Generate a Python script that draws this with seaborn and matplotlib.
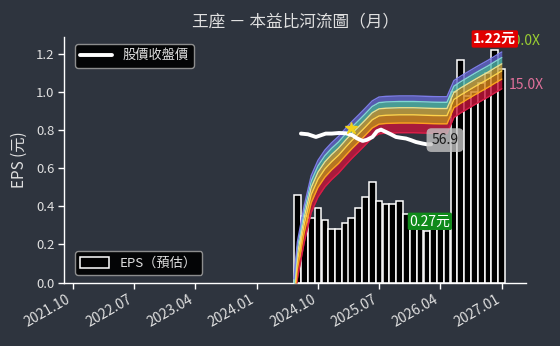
import numpy as np
import pandas as pd
import matplotlib
matplotlib.use("Agg")
import matplotlib.pyplot as plt
import matplotlib.dates as mdates
from matplotlib.patches import Patch
from matplotlib.lines import Line2D
import seaborn as sns

# ---------------- data ----------------
eps_months = pd.date_range("2024-06-30", periods=31, freq="ME")
eps_values = [0.46, 0.35, 0.34, 0.39, 0.33, 0.28, 0.28, 0.31, 0.34, 0.39, 0.45, 0.53,
              0.43, 0.41, 0.41, 0.43, 0.36, 0.31, 0.28, 0.27, 0.28, 0.29, 0.30,
              1.00, 1.17, 0.98, 1.00, 1.05, 1.10, 1.22, 1.12]

river_dates = pd.to_datetime(["2024-06-15"] + [d.strftime("%Y-%m-%d") for d in eps_months])
river_base = [0.15,
              0.30, 0.60, 1.05, 1.40, 1.70, 1.95, 2.20, 2.55, 2.90, 3.30, 3.75, 4.30,
              4.62, 4.68, 4.70, 4.72, 4.72, 4.72, 4.70, 4.68, 4.66, 4.65, 4.65,
              6.30, 6.85, 7.40, 8.00, 8.60, 9.25, 10.00, 10.80]
pe_multiples = [15, 18, 21, 24, 27, 30]

price_dates = pd.to_datetime([
    "2024-07-16", "2024-08-16", "2024-09-21", "2024-11-04", "2024-12-01", "2025-01-02",
    "2025-02-02", "2025-03-04", "2025-03-23", "2025-04-18", "2025-05-07", "2025-06-01",
    "2025-06-21", "2025-07-09", "2025-07-31", "2025-08-22", "2025-09-14", "2025-10-06",
    "2025-10-29", "2025-11-20", "2025-12-12", "2026-01-11", "2026-01-31", "2026-02-18"])
price_values = [69.6, 68.7, 65.3, 69.6, 69.6, 70.4,
                70.0, 67.4, 63.7, 60.6, 61.9, 65.3,
                72.7, 75.0, 71.8, 68.7, 65.3, 64.3,
                63.4, 61.5, 59.4, 57.7, 56.8, 56.9]

star_date = pd.Timestamp("2025-02-27")
star_price = 78.0

tick_dates = pd.to_datetime(["2021-10-01", "2022-07-01", "2023-04-01", "2024-01-01",
                             "2024-10-01", "2025-07-01", "2026-04-01", "2027-01-01"])
tick_labels = ["2021.10", "2022.07", "2023.04", "2024.01",
               "2024.10", "2025.07", "2026.04", "2027.01"]

# ---------------- style ----------------
BG = "#2e343e"
FG = "#e0e0e0"
sns.set_theme(style="dark")
plt.rcParams["font.family"] = ["Noto Sans CJK TC", "DejaVu Sans"]
plt.rcParams["axes.unicode_minus"] = False

band_colors = ["#c8143c", "#d8861c", "#c9a640", "#4fb7aa", "#6264cc"]
line_colors = ["#d81e48", "#ffa020", "#ffd24a", "#eedf8c", "#80d8d0", "#7c7ce8"]

fig = plt.figure(figsize=(5.6, 3.46), dpi=100, facecolor=BG)
ax = fig.add_axes([64.3 / 560, 63.5 / 346, 461.4 / 560, 245.5 / 346])
ax.set_facecolor(BG)

# EPS bars
ax.bar(eps_months, eps_values, width=30, color="black", edgecolor="white",
       linewidth=1.1, zorder=2)
ax.set_ylim(0, 1.289)
ax.set_xlim(pd.Timestamp("2021-08-23"), pd.Timestamp("2027-04-17"))
ax.set_yticks(np.arange(0, 1.21, 0.2))
ax.yaxis.set_major_formatter(matplotlib.ticker.FormatStrFormatter("%.1f"))
ax.set_xticks(tick_dates)
ax.set_xticklabels(tick_labels, rotation=30, ha="right")
ax.tick_params(axis="both", colors="white", labelcolor=FG,
               length=4, width=1, direction="out", bottom=True, left=True)
ax.tick_params(axis="x", labelsize=10, pad=3)
ax.tick_params(axis="y", labelsize=9.5, pad=3)
for s in ["top", "right"]:
    ax.spines[s].set_visible(False)
for s in ["left", "bottom"]:
    ax.spines[s].set_color("white")
    ax.spines[s].set_linewidth(1)
ax.grid(False)
ax.set_ylabel("EPS (元)", color=FG, fontsize=11)
ax.yaxis.set_label_coords(-0.079, 0.5)

# river on twin (log) axis
ax2 = ax.twinx()
ax2.set_yscale("log")
ax2.set_ylim(4.2, 430)
ax2.set_xlim(ax.get_xlim())
base = np.array(river_base)
for i in range(len(pe_multiples) - 1):
    ax2.fill_between(river_dates, base * pe_multiples[i], base * pe_multiples[i + 1],
                     color=band_colors[i], alpha=0.8, linewidth=0, zorder=2)
for i, pe in enumerate(pe_multiples):
    sns.lineplot(x=river_dates, y=base * pe, ax=ax2, color=line_colors[i],
                 linewidth=1.0, legend=False, zorder=3)

# closing price
sns.lineplot(x=price_dates, y=price_values, ax=ax2, color="white", linewidth=2.8,
             legend=False, zorder=5)
ax2.plot([star_date], [star_price], marker="*", color="#f2d21b", markersize=9,
         linestyle="none", zorder=6)

ax2.set_yticks([])
ax2.minorticks_off()
ax2.tick_params(axis="y", which="both", right=False, labelright=False)
ax2.set_ylabel("")
ax2.set_xlabel("")
ax.set_xlabel("")
for s in ax2.spines.values():
    s.set_visible(False)
ax2.grid(False)

end_x = mdates.date2num(river_dates[-1])
# PE labels at the end of the river
ax2.annotate(f"{pe_multiples[-1]:.1f}X", xy=(end_x, base[-1] * pe_multiples[-1]),
             xytext=(3, 8), textcoords="offset points", ha="left", va="center",
             color="#9acd32", fontsize=10, zorder=7, annotation_clip=False)
ax2.annotate(f"{pe_multiples[0]:.1f}X", xy=(end_x, base[-1] * pe_multiples[0]),
             xytext=(5, 3), textcoords="offset points", ha="left", va="center",
             color="#e0709a", fontsize=10, zorder=7, annotation_clip=False)

# last price label
ax2.annotate(f"{price_values[-1]:.1f}", xy=(mdates.date2num(price_dates[-1]), price_values[-1]),
             xytext=(10, 3), textcoords="offset points", ha="center", va="center",
             color="#1a1a1a", fontsize=10, zorder=8,
             bbox=dict(boxstyle="round,pad=0.35", fc="#c4c4c4", ec="none", alpha=0.8))

# max / min EPS labels
imax = int(np.argmax(eps_values))
imin = int(np.argmin(eps_values))
ax2.annotate(f"{eps_values[imax]:.2f}元", xy=(mdates.date2num(eps_months[imax]), eps_values[imax]),
             xycoords=ax.transData, xytext=(0, 3), textcoords="offset points",
             ha="center", va="bottom", color="white", fontsize=10, fontweight="bold",
             zorder=9, annotation_clip=False,
             bbox=dict(boxstyle="round,pad=0.12", fc="#e00000", ec="none"))
ax2.annotate(f"{eps_values[imin]:.2f}元", xy=(mdates.date2num(eps_months[imin]), eps_values[imin]),
             xycoords=ax.transData, xytext=(2, 2), textcoords="offset points",
             ha="center", va="bottom", color="white", fontsize=10,
             zorder=9, annotation_clip=False,
             bbox=dict(boxstyle="round,pad=0.12", fc="#0f8a1a", ec="none"))

# legends
leg_kw = dict(facecolor="black", edgecolor="#9a9a9a", framealpha=0.9, fancybox=True,
              fontsize=9.5, labelcolor=FG, borderaxespad=0)
leg1 = ax2.legend(handles=[Line2D([0], [0], color="white", lw=2.8)], labels=["股價收盤價"],
                  loc="upper left", bbox_to_anchor=(0.0232, 0.9715),
                  handlelength=2.4, handletextpad=0.8, **leg_kw)
leg1.set_zorder(10)
leg2 = ax.legend(handles=[Patch(facecolor="black", edgecolor="white", linewidth=1.1)],
                 labels=["EPS（預估）"], loc="lower left", bbox_to_anchor=(0.0232, 0.0305),
                 handlelength=2.2, handleheight=0.9, handletextpad=0.8, **leg_kw)

fig.text(295 / 560, 1 - 22 / 346, "王座 － 本益比河流圖（月）", ha="center", va="center",
         color=FG, fontsize=12)

fig.savefig("out.png", dpi=100, facecolor=BG)
